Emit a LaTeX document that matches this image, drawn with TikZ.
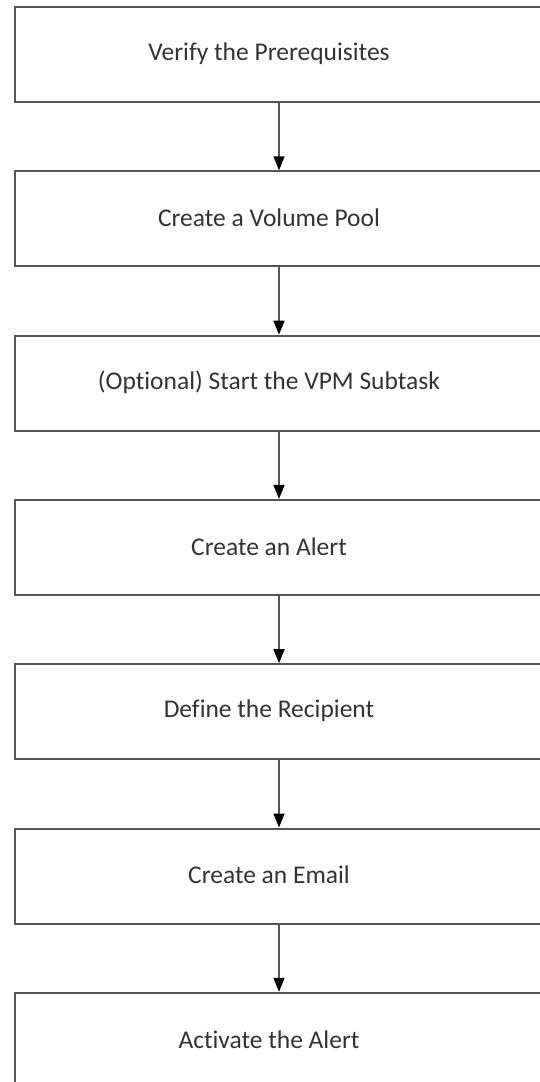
\documentclass[tikz,border=0pt]{standalone}
\usepackage{fontspec}
\setmainfont{Carlito}[Ligatures=NoCommon]
\usetikzlibrary{arrows.meta}
\definecolor{boxline}{HTML}{555555}
\definecolor{txt}{HTML}{333333}
\begin{document}
\begin{tikzpicture}[x=1pt,y=1pt,
  stepbox/.style={draw=boxline,line width=2pt,minimum width=530pt,minimum height=95pt,inner sep=0pt,anchor=north west},
  steptext/.style={text=txt,font=\fontsize{25.5}{30}\selectfont},
  flow/.style={draw=boxline,line width=1.6pt,-{Triangle[length=14pt,width=11pt,color=black]}}]
\useasboundingbox (0,0) rectangle (540,-1082);
\foreach \i/\t in {1/Verify the Prerequisites,2/Create a Volume Pool,3/(Optional) Start the VPM Subtask,4/Create an Alert,5/Define the Recipient,6/Create an Email,7/Activate the Alert}{
  \node[stepbox] (b\i) at (14,{-6-(\i-1)*164.3}) {};
  \node[steptext] (t\i) at ({269},{-53.5-(\i-1)*164.3}) {\t};
}
\foreach \a/\b in {1/2,2/3,3/4,4/5,5/6,6/7}{
  \draw[flow] (b\a.south -| 279,0) -- (b\b.north -| 279,0);
}
\end{tikzpicture}
\end{document}
